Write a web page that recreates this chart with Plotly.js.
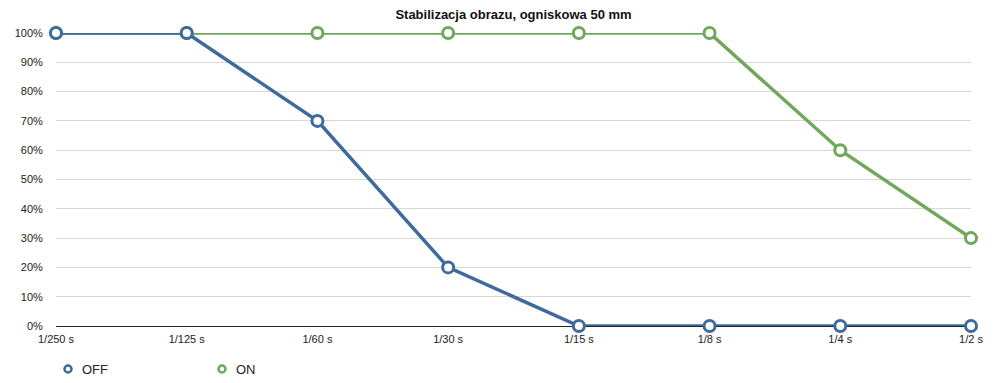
<!DOCTYPE html>
<html><head><meta charset="utf-8">
<script src="https://cdn.plot.ly/plotly-3.0.1.min.js"></script>
<style>html,body{margin:0;padding:0;background:#fff}#chart{width:1000px;height:383px}</style>
</head><body><div id="chart"></div>
<script>
const categories = ["1/250 s","1/125 s","1/60 s","1/30 s","1/15 s","1/8 s","1/4 s","1/2 s"];
const offValues = [100,100,70,20,0,0,0,0];
const onValues = [100,100,100,100,100,100,60,30];
const yTicks = [0,10,20,30,40,50,60,70,80,90,100];
const seriesNames = ["OFF","ON"];
const blue = "#3E6B9B", green = "#6FA75B";
const seriesColors = [blue, green];

function lineTrace(name, y, color){
  return {x: categories, y: y, name: name, type: "scatter", mode: "lines+markers",
    line: {color: color, width: 3.5}, showlegend: false, cliponaxis: false,
    marker: {symbol: "circle", size: 11, color: "#fff", line: {color: color, width: 3}}};
}
const data = [lineTrace("ON", onValues, green), lineTrace("OFF", offValues, blue)];

// custom legend (marker + label) placed in pixel offsets below the plot
const plotL = 56, plotW = 1000 - 56 - 29;
const shapes = [], annotations = [];
seriesNames.forEach((n, i) => {
  const mx = (68 + i * 154 - plotL) / plotW;
  shapes.push({type: "circle", xref: "paper", yref: "paper", xsizemode: "pixel", ysizemode: "pixel",
    xanchor: mx, yanchor: 0, x0: -3.5, x1: 3.5, y0: -46.5, y1: -39.5,
    line: {color: seriesColors[i], width: 2.5}, fillcolor: "#fff"});
  annotations.push({xref: "paper", yref: "paper", x: (80 + i * 154 - plotL) / plotW, y: 0,
    yshift: -43, xanchor: "left", yanchor: "middle", showarrow: false, text: n,
    font: {size: 13, color: "#222"}});
});

const layout = {
  width: 1000, height: 383,
  margin: {l: 56, r: 29, t: 33, b: 57},
  paper_bgcolor: "#fff", plot_bgcolor: "#fff",
  font: {family: "Liberation Sans, Arial, sans-serif", size: 11, color: "#222"},
  title: {text: "<b>Stabilizacja obrazu, ogniskowa 50 mm</b>", font: {size: 13, color: "#111"},
    x: 0.5135, xanchor: "center", y: 0.963, yanchor: "middle"},
  xaxis: {type: "category", range: [0, 7], showgrid: false, zeroline: false, showline: false,
    ticks: "outside", ticklen: 3, tickcolor: "rgba(0,0,0,0)", tickfont: {size: 11}},
  yaxis: {range: [0, 100], tickvals: yTicks, ticktext: yTicks.map(v => v + "%"),
    showgrid: true, gridcolor: "#d8d8d8", gridwidth: 1, zeroline: true, zerolinecolor: "#222", zerolinewidth: 1,
    showline: false, ticks: "outside", ticklen: 10, tickcolor: "rgba(0,0,0,0)", tickfont: {size: 11}},
  shapes: shapes, annotations: annotations,
  showlegend: false
};
Plotly.newPlot("chart", data, layout, {displayModeBar: false, staticPlot: true});
</script></body></html>
